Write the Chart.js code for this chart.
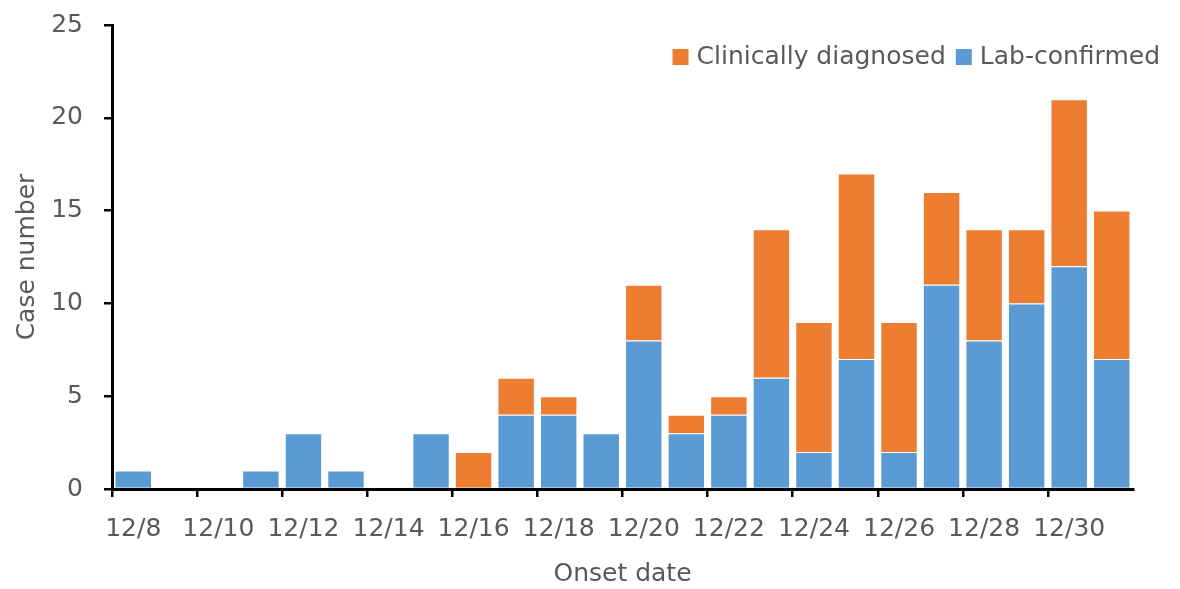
<!DOCTYPE html>
<html>
<head>
<meta charset="utf-8">
<script src="https://cdn.jsdelivr.net/npm/chart.js@4.4.1/dist/chart.umd.min.js"></script>
<style>
  html, body { margin: 0; padding: 0; background: #ffffff; }
  #wrap { width: 1180px; height: 589px; }
</style>
</head>
<body>
<div id="wrap"><canvas id="c" width="1180" height="589"></canvas></div>
<script>
const categories = ['12/8','12/9','12/10','12/11','12/12','12/13','12/14','12/15','12/16','12/17','12/18','12/19',
                    '12/20','12/21','12/22','12/23','12/24','12/25','12/26','12/27','12/28','12/29','12/30','12/31'];
const labConfirmed =        [1,0,0,1,3,1,0,3,0,4,4,3,8,3,4,6,2,7,2,11,8,10,12,7];
const clinicallyDiagnosed = [0,0,0,0,0,0,0,0,2,2,1,0,3,1,1,8,7,10,7,5,6,4,9,8];
const yTicks = [0,5,10,15,20,25];
const seriesNames = ['Lab-confirmed','Clinically diagnosed'];
const seriesColors = ['#5B9BD5','#ED7D31'];

const FONT = 'DejaVu Sans';
const TEXT = '#595959';

const legendPlugin = {
  id: 'customLegend',
  afterDraw(chart) {
    const ctx = chart.ctx;
    const items = chart.data.datasets.map(d => ({label: d.label, color: d.backgroundColor})).reverse();
    ctx.save();
    ctx.font = '25px "' + FONT + '"';
    const box = 16, gapBox = 8, gapItem = 10, rightEdge = 1160, cy = 57;
    let total = 0;
    items.forEach((it, i) => { total += box + gapBox + ctx.measureText(it.label).width + (i < items.length - 1 ? gapItem : 0); });
    let x = rightEdge - total;
    items.forEach(it => {
      ctx.fillStyle = it.color;
      ctx.fillRect(x, cy - box / 2, box, box);
      x += box + gapBox;
      ctx.fillStyle = TEXT;
      ctx.textBaseline = 'middle';
      ctx.textAlign = 'left';
      ctx.fillText(it.label, x, cy);
      x += ctx.measureText(it.label).width + gapItem;
    });
    ctx.restore();
  }
};

new Chart(document.getElementById('c'), {
  type: 'bar',
  data: {
    labels: categories,
    datasets: [
      { label: seriesNames[0], data: labConfirmed, backgroundColor: seriesColors[0], borderColor: '#ffffff', borderWidth: 1,
        barPercentage: 0.88, categoryPercentage: 1.0 },
      { label: seriesNames[1], data: clinicallyDiagnosed, backgroundColor: seriesColors[1], borderColor: '#ffffff', borderWidth: 1,
        barPercentage: 0.88, categoryPercentage: 1.0 }
    ]
  },
  options: {
    responsive: false,
    devicePixelRatio: 1,
    animation: false,
    layout: { padding: { top: 25, right: 47, left: 0, bottom: 0 } },
    plugins: { legend: { display: false }, tooltip: { enabled: false } },
    scales: {
      x: {
        stacked: true,
        offset: true,
        afterFit(scale) { scale.height = 100; scale.paddingLeft = 0; scale.paddingRight = 0; },
        grid: {
          offset: true,
          drawOnChartArea: false,
          drawTicks: true,
          tickLength: 8,
          lineWidth: 2.5,
          color: ctx => (ctx.index % 2 === 0 ? '#000000' : 'rgba(0,0,0,0)')
        },
        border: { display: true, color: '#000000', width: 3 },
        ticks: {
          autoSkip: false,
          maxRotation: 0,
          padding: 17,
          color: TEXT,
          font: { family: FONT, size: 25 },
          callback: function(value, index) { return index % 2 === 0 ? categories[index] : ''; }
        },
        title: { display: true, text: 'Onset date', color: TEXT, font: { family: FONT, size: 25 }, padding: { top: 0, bottom: 0 } }
      },
      y: {
        stacked: true,
        min: 0,
        max: 25,
        afterFit(scale) { scale.width = 112; scale.paddingTop = 0; scale.paddingBottom = 0; },
        afterBuildTicks(scale) { scale.ticks = yTicks.map(v => ({ value: v })); },
        grid: { drawOnChartArea: false, drawTicks: true, tickLength: 8, lineWidth: 2.5, color: '#000000' },
        border: { display: true, color: '#000000', width: 3 },
        ticks: { padding: 21, color: TEXT, font: { family: FONT, size: 25 } },
        title: { display: true, text: 'Case number', color: TEXT, font: { family: FONT, size: 25 }, padding: { top: 12, bottom: 0 } }
      }
    }
  },
  plugins: [legendPlugin]
});
</script>
</body>
</html>
